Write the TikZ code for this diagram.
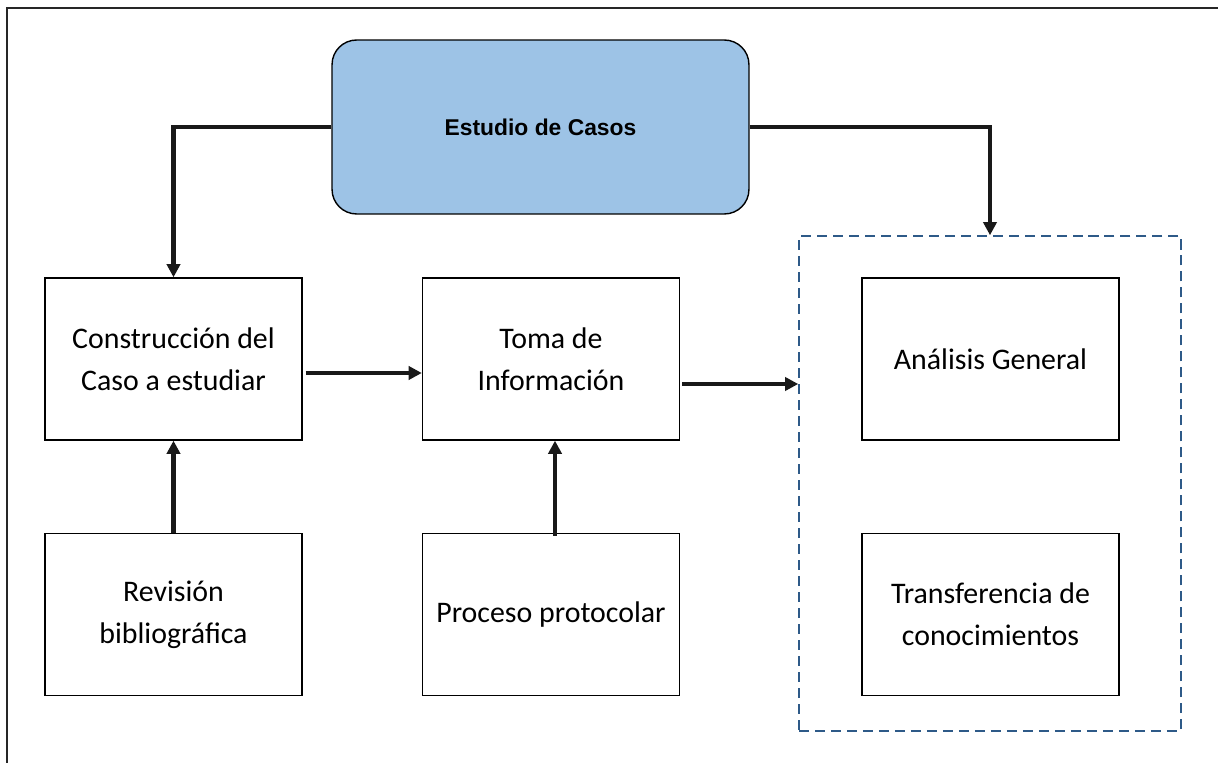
\documentclass[tikz,border=0pt]{standalone}
\usepackage{fontspec}
\setmainfont{Carlito}
\newfontfamily\titlefont{Liberation Sans}
\usetikzlibrary{arrows.meta}
\definecolor{caseblue}{HTML}{9DC3E6}
\definecolor{dashblue}{HTML}{2E5A88}
\begin{document}
\begin{tikzpicture}[x=0.02cm, y=-0.02cm]
  \tikzstyle{box}=[rectangle, draw, line width=0.8pt, minimum width=5.14cm, minimum height=3.24cm, inner sep=0pt, align=center, font=\fontsize{17}{23.8}\selectfont]
  \tikzstyle{title}=[rectangle, draw, line width=0.8pt, rounded corners=14pt, fill=caseblue, minimum width=8.34cm, minimum height=3.48cm, font=\titlefont\bfseries\fontsize{13}{15}\selectfont]
  \tikzstyle{group}=[rectangle, draw=dashblue, line width=0.9pt, dash pattern=on 5.7pt off 3.4pt, minimum width=7.64cm, minimum height=9.9cm]
  \tikzstyle{arrow}=[-{Triangle[length=7.5pt,width=7.5pt]}, line width=2.5pt, black!90]

  \useasboundingbox (0, 0) rectangle (1218, 763);
  \draw [line width=1.1pt, black!85] (7, 763) |- (1218, 8);

  \node[title] (6) at (540.5, 127) {Estudio de Casos};
  \node[group] (7) at (990, 483.5) {};

  \node[box] (0) at (173.5, 359) {Construcción del\\Caso a estudiar};
  \node[box] (1) at (551, 359) {Toma de\\Información};
  \node[box] (2) at (990.5, 359) {Análisis General};
  \node[box] (3) at (173.5, 614.5) {Revisión\\bibliográfica};
  \node[box] (4) at (551, 614.5) {Proceso protocolar};
  \node[box] (5) at (990.5, 614.5) {Transferencia de\\conocimientos};

  \draw[arrow] (6.west) -| (0.north);
  \draw[arrow] (6.east) -| (7.north);
  \draw[arrow] ([shift={(3,14)}]0.east) -- ([yshift=-14*0.02cm]1.west);
  \draw[arrow] ([shift={(2,25)}]1.east) coordinate (a) -- (a -| 7.west);
  \draw[arrow] (3.north) -- (0.south);
  \draw[arrow] ([shift={(4,3)}]4.north) -- ([shift={(4,0)}]1.south);
\end{tikzpicture}
\end{document}
